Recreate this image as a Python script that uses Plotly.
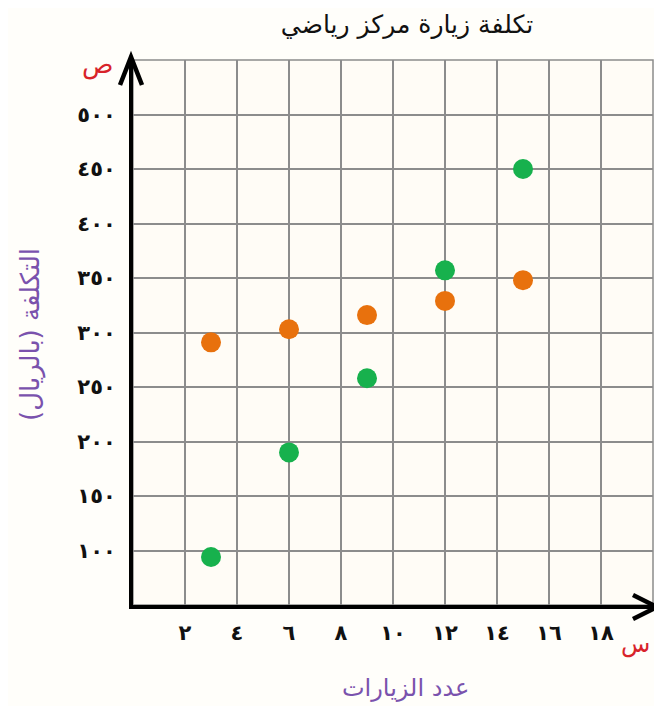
import plotly.graph_objects as go

# ---- data ----
visits = [3, 6, 9, 12, 15]
cost_green = [94, 190, 258, 357, 450]
cost_orange = [291, 303, 316, 329, 348]

x_tick_vals = [2, 4, 6, 8, 10, 12, 14, 16, 18]
x_tick_text = ["٢", "٤", "٦", "٨", "١٠", "١٢", "١٤", "١٦", "١٨"]
y_tick_vals = [100, 150, 200, 250, 300, 350, 400, 450, 500]
y_tick_text = ["١٠٠", "١٥٠", "٢٠٠", "٢٥٠", "٣٠٠", "٣٥٠", "٤٠٠", "٤٥٠", "٥٠٠"]

title_text = "تكلفة زيارة مركز رياضي"
x_title = "عدد الزيارات"
y_title = "التكلفة (بالريال)"

GREEN = "#17b14d"
ORANGE = "#e8710d"
PURPLE = "#7a52ad"
RED = "#d8232a"
GRID = "#8c8c8c"
FONT = "DejaVu Sans, Noto Sans, sans-serif"

# the page body has an 8px default margin; lay out in page pixels
OFF = 8
PL, PR, PT, PB = 133, 653, 60, 605  # plot area in page pixels
W, H = 662 - OFF, 706 - OFF


def px(x):
    return (x - PL) / (PR - PL)


def py(y):
    return (PB - y) / (PB - PT)


fig = go.Figure()
fig.add_trace(go.Scatter(x=visits, y=cost_orange, mode="markers",
                         marker=dict(size=20, color=ORANGE), showlegend=False))
fig.add_trace(go.Scatter(x=visits, y=cost_green, mode="markers",
                         marker=dict(size=20, color=GREEN), showlegend=False))

fig.update_layout(
    width=W, height=H,
    margin=dict(l=PL - OFF, r=662 - PR, t=PT - OFF, b=706 - PB, pad=0),
    paper_bgcolor="#fffefa",
    plot_bgcolor="#fffcf6",
    font=dict(family=FONT, color="black"),
    title=dict(text=title_text, x=(407 - OFF) / W, y=1 - (24 - OFF) / H,
               xanchor="center", yanchor="middle",
               font=dict(size=25, color="#111111", family=FONT)),
)

tickfont = dict(size=21, color="#111111", family=FONT, weight="bold")
fig.update_xaxes(range=[0, 20], tickvals=x_tick_vals, ticktext=x_tick_text,
                 showgrid=True, gridcolor=GRID, gridwidth=1.5,
                 showline=True, linecolor="black", linewidth=4,
                 zeroline=False, ticks="", ticklabelstandoff=6,
                 tickfont=tickfont)
fig.update_yaxes(range=[50, 550], tickvals=y_tick_vals, ticktext=y_tick_text,
                 showgrid=True, gridcolor=GRID, gridwidth=1.5,
                 showline=True, linecolor="black", linewidth=4,
                 zeroline=False, ticks="", ticklabelstandoff=9,
                 tickfont=tickfont)

shapes = [
    dict(type="rect", xref="paper", yref="paper", x0=0, x1=1, y0=0, y1=1,
         line=dict(color=GRID, width=1.5), layer="below"),
    dict(type="path", xref="paper", yref="paper", xsizemode="pixel", ysizemode="pixel",
         xanchor=0, yanchor=1, path="M -13,-25 L -2,3 L 9,-25",
         line=dict(color="black", width=4.5)),
    dict(type="path", xref="paper", yref="paper", xsizemode="pixel", ysizemode="pixel",
         xanchor=1, yanchor=0, path="M -2,-2 L 4,-2 M -20,10 L 4,-2 L -20,-14",
         line=dict(color="black", width=4.5)),
]
fig.update_layout(shapes=shapes)

annotations = [
    dict(text=x_title, xref="paper", yref="paper", x=px(405), y=py(688),
         showarrow=False, xanchor="center", yanchor="middle",
         font=dict(size=24, color=PURPLE, family=FONT)),
    dict(text=y_title, xref="paper", yref="paper", x=px(30), y=py(335),
         showarrow=False, xanchor="center", yanchor="middle", textangle=-90,
         font=dict(size=26, color=PURPLE, family=FONT)),
    dict(text="ص", xref="paper", yref="paper", x=px(97), y=py(64),
         showarrow=False, xanchor="center", yanchor="middle",
         font=dict(size=26, color=RED, family=FONT)),
    dict(text="س", xref="paper", yref="paper", x=px(652), y=py(644),
         showarrow=False, xanchor="right", yanchor="middle",
         font=dict(size=24, color=RED, family=FONT)),
]
fig.update_layout(annotations=annotations)

fig.write_html("out.html")
